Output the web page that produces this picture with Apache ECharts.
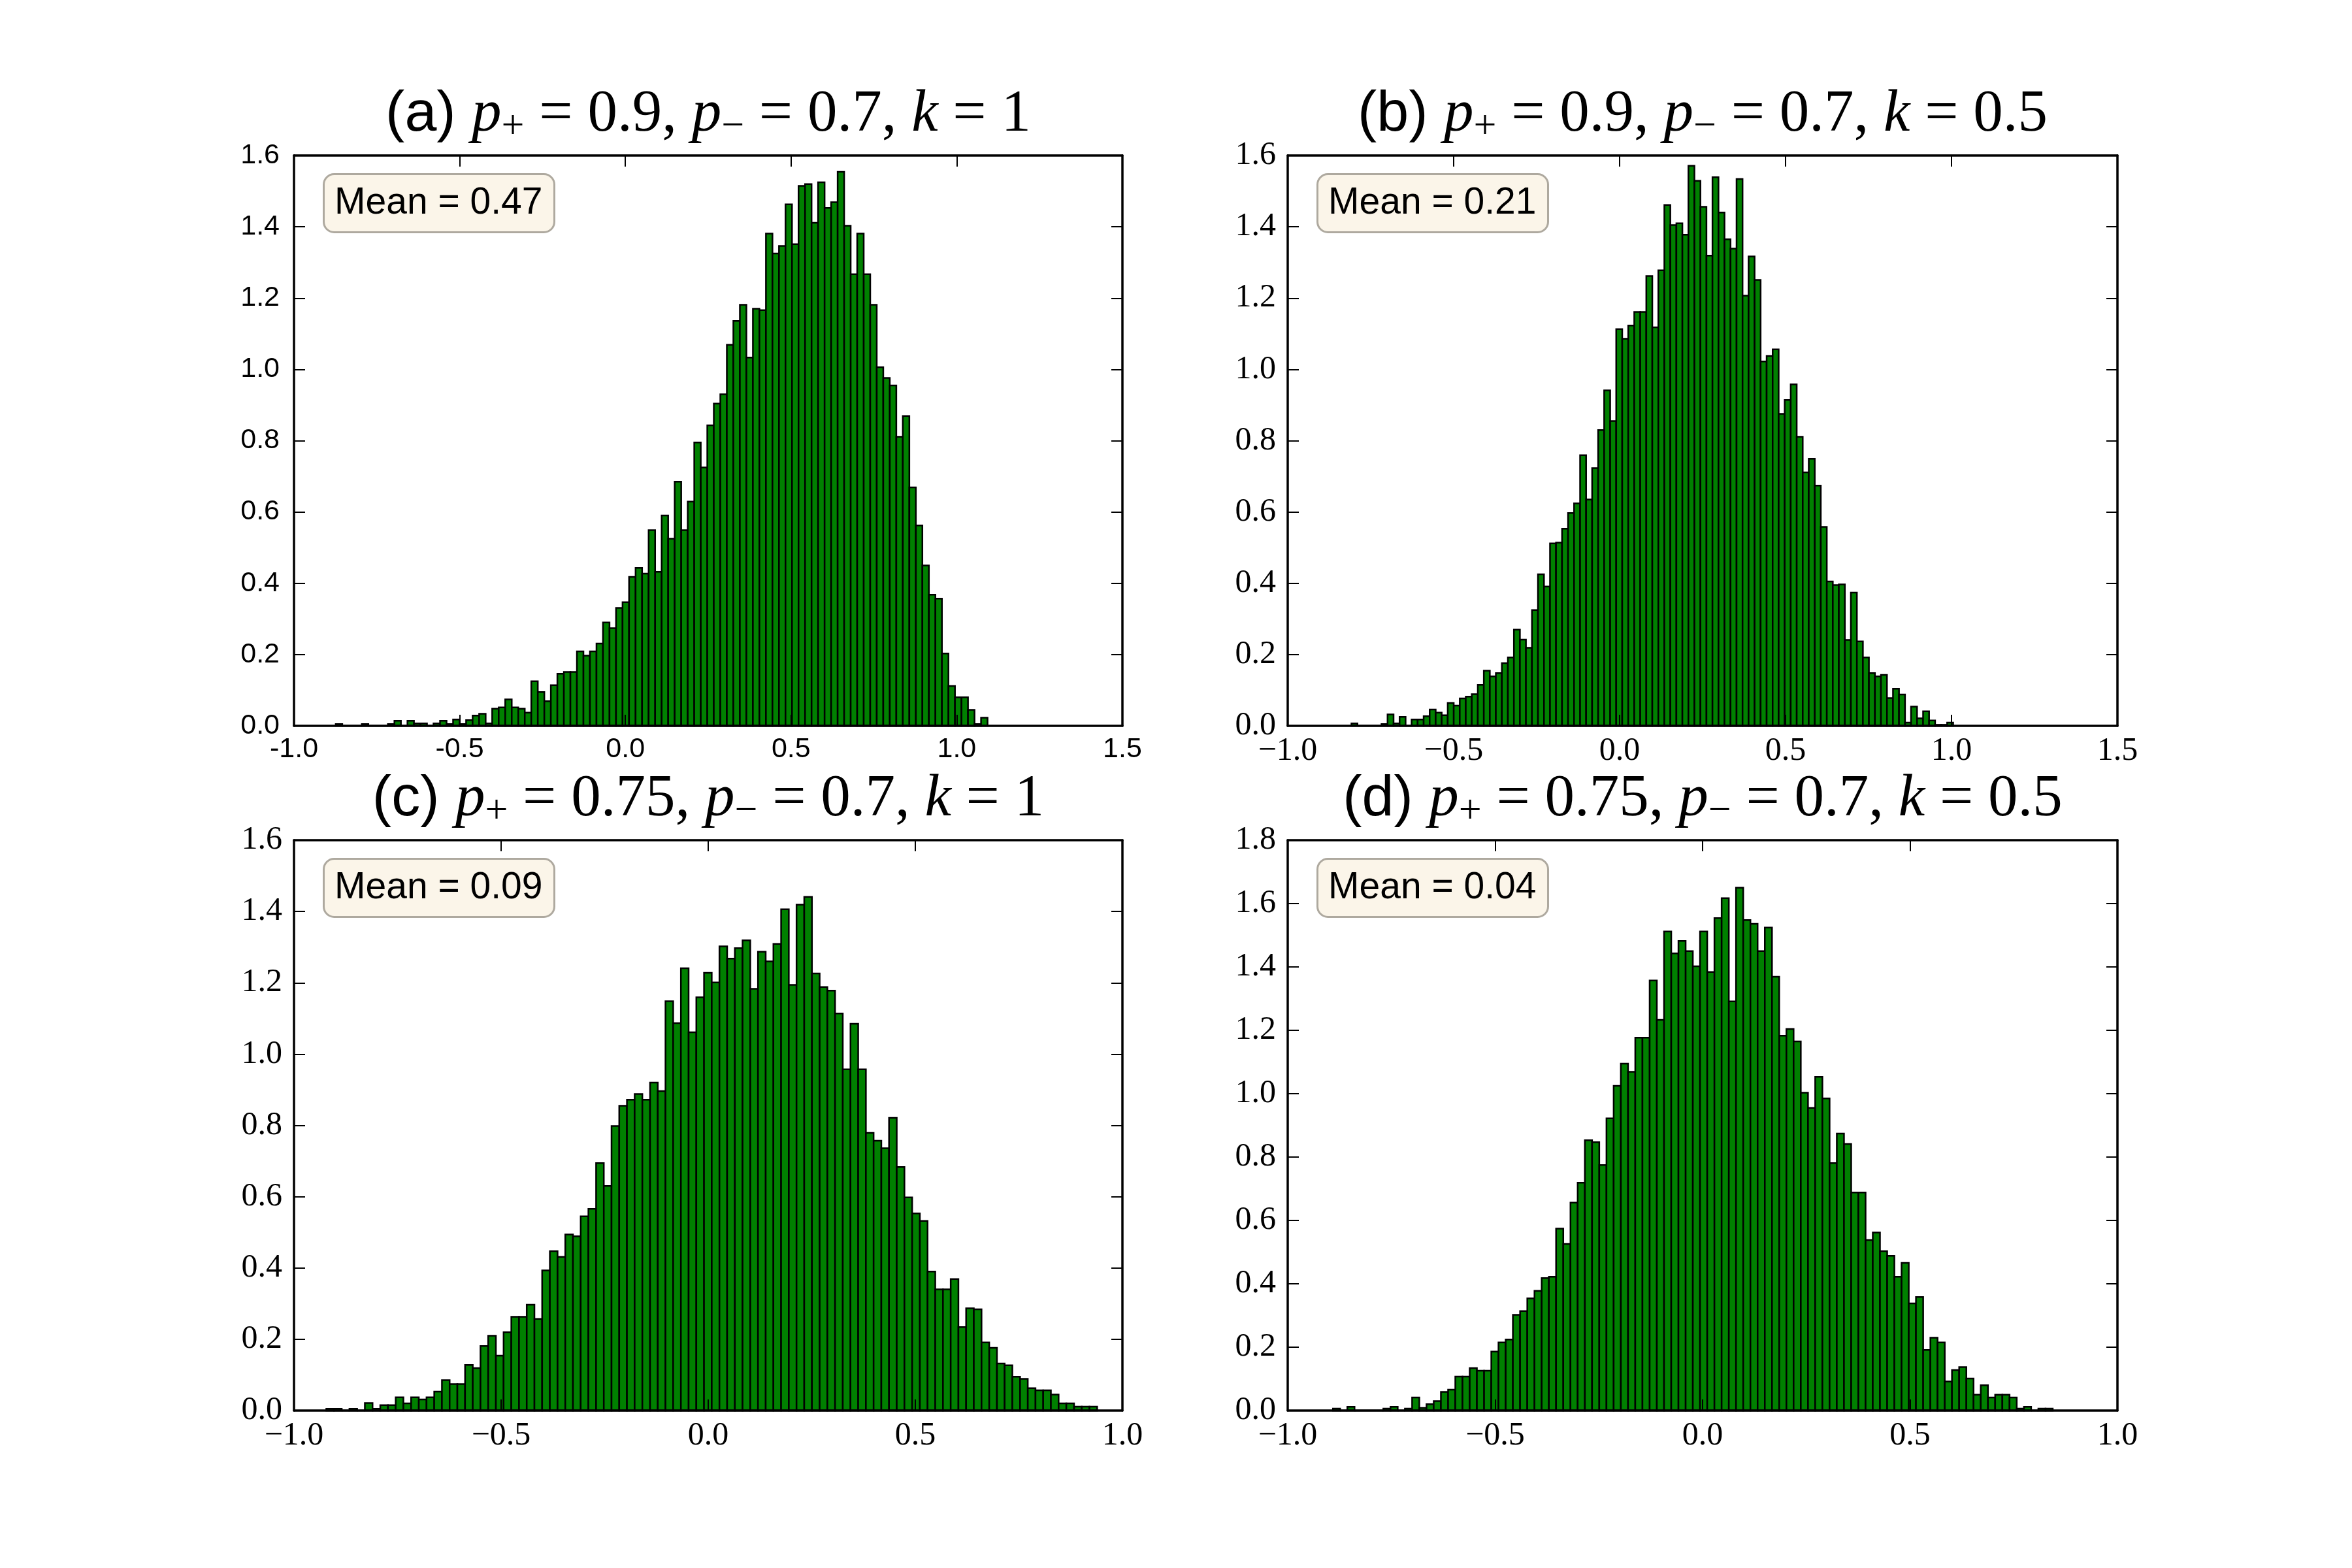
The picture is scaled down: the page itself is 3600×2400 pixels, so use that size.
<!DOCTYPE html>
<html>
<head>
<meta charset="utf-8">
<script src="https://cdn.jsdelivr.net/npm/echarts@6/dist/echarts.min.js"></script>
<style>
html, body { margin: 0; background: #fff; }
#main { width: 3600px; height: 2400px; }
</style>
</head>
<body>
<div id="main"></div>
<script>
// histogram densities, 100 bins per panel
const histA = [
  0.005, 0, 0, 0, 0.005, 0, 0, 0, 0.005, 0.014,
  0, 0.014, 0.007, 0.007, 0, 0.007, 0.014, 0.005, 0.018, 0.005,
  0.016, 0.029, 0.034, 0.007, 0.048, 0.052, 0.074, 0.052, 0.048, 0.037,
  0.125, 0.095, 0.069, 0.114, 0.146, 0.151, 0.151, 0.209, 0.197, 0.209,
  0.231, 0.290, 0.274, 0.331, 0.347, 0.418, 0.443, 0.427, 0.549, 0.432,
  0.590, 0.525, 0.685, 0.549, 0.629, 0.795, 0.725, 0.843, 0.904, 0.930,
  1.069, 1.136, 1.181, 1.033, 1.170, 1.166, 1.381, 1.325, 1.346, 1.463,
  1.351, 1.515, 1.520, 1.411, 1.525, 1.453, 1.469, 1.554, 1.403, 1.267,
  1.381, 1.267, 1.181, 1.006, 0.976, 0.955, 0.811, 0.869, 0.669, 0.562,
  0.450, 0.368, 0.357, 0.203, 0.112, 0.080, 0.080, 0.045, 0.005, 0.023
];
const histB = [
  0.007, 0, 0, 0, 0, 0.005, 0.032, 0.007, 0.025, 0,
  0.018, 0.018, 0.027, 0.046, 0.037, 0.030, 0.064, 0.057, 0.077, 0.082,
  0.089, 0.115, 0.155, 0.139, 0.148, 0.176, 0.192, 0.270, 0.242, 0.219,
  0.325, 0.425, 0.391, 0.512, 0.514, 0.553, 0.597, 0.624, 0.759, 0.635,
  0.723, 0.830, 0.941, 0.855, 1.113, 1.086, 1.123, 1.161, 1.161, 1.262,
  1.118, 1.278, 1.461, 1.405, 1.410, 1.378, 1.571, 1.529, 1.456, 1.319,
  1.539, 1.440, 1.365, 1.339, 1.534, 1.207, 1.317, 1.251, 1.022, 1.038,
  1.056, 0.875, 0.914, 0.958, 0.811, 0.711, 0.749, 0.674, 0.558, 0.405,
  0.395, 0.397, 0.241, 0.374, 0.237, 0.192, 0.148, 0.139, 0.143, 0.078,
  0.104, 0.088, 0.009, 0.054, 0.021, 0.041, 0.015, 0.003, 0.003, 0.009
];
const histC = [
  0.005, 0.005, 0, 0.005, 0, 0.021, 0.005, 0.015, 0.015, 0.037,
  0.020, 0.037, 0.031, 0.037, 0.053, 0.085, 0.074, 0.074, 0.128, 0.119,
  0.181, 0.210, 0.154, 0.220, 0.263, 0.263, 0.297, 0.257, 0.393, 0.447,
  0.431, 0.494, 0.489, 0.545, 0.566, 0.694, 0.630, 0.798, 0.855, 0.872,
  0.888, 0.872, 0.920, 0.896, 1.148, 1.087, 1.241, 1.061, 1.159, 1.228,
  1.201, 1.302, 1.268, 1.297, 1.319, 1.183, 1.287, 1.260, 1.309, 1.406,
  1.194, 1.419, 1.441, 1.226, 1.188, 1.178, 1.114, 0.957, 1.085, 0.957,
  0.779, 0.757, 0.736, 0.821, 0.683, 0.598, 0.553, 0.532, 0.390, 0.340,
  0.340, 0.369, 0.234, 0.287, 0.284, 0.191, 0.176, 0.132, 0.127, 0.095,
  0.089, 0.063, 0.057, 0.057, 0.045, 0.020, 0.020, 0.011, 0.011, 0.011
];
const histD = [
  0.006, 0, 0.012, 0, 0, 0, 0, 0.006, 0.012, 0,
  0.006, 0.041, 0.008, 0.020, 0.030, 0.059, 0.066, 0.107, 0.107, 0.134,
  0.126, 0.126, 0.186, 0.215, 0.224, 0.302, 0.314, 0.354, 0.378, 0.418,
  0.422, 0.574, 0.526, 0.656, 0.719, 0.853, 0.847, 0.775, 0.922, 1.025,
  1.095, 1.069, 1.177, 1.177, 1.357, 1.233, 1.512, 1.443, 1.482, 1.450,
  1.402, 1.512, 1.384, 1.554, 1.617, 1.291, 1.650, 1.548, 1.536, 1.450,
  1.524, 1.369, 1.183, 1.204, 1.165, 1.003, 0.955, 1.053, 0.985, 0.781,
  0.874, 0.841, 0.688, 0.688, 0.538, 0.562, 0.503, 0.488, 0.422, 0.466,
  0.338, 0.358, 0.191, 0.230, 0.215, 0.092, 0.128, 0.137, 0.101, 0.050,
  0.080, 0.041, 0.050, 0.050, 0.041, 0.006, 0.012, 0, 0.006, 0.006
];

// left edge of first bin and bin width
const binStarts = [-0.874, -0.808, -0.922, -0.891];
const binWidths = [0.01967, 0.01813, 0.01861, 0.01735];

const panelTags = ['(a)', '(b)', '(c)', '(d)'];
const pPlusVals = ['0.9', '0.9', '0.75', '0.75'];
const pMinusVals = ['0.7', '0.7', '0.7', '0.7'];
const kVals = ['1', '0.5', '1', '0.5'];
const meanVals = ['0.47', '0.21', '0.09', '0.04'];

const xMins = [-1.0, -1.0, -1.0, -1.0];
const xMaxs = [1.5, 1.5, 1.0, 1.0];
const yMaxs = [1.6, 1.6, 1.6, 1.8];

// layout
const gridBoxes = [
  { left: 450, top: 238, width: 1268, height: 873 },
  { left: 1971, top: 238, width: 1270, height: 873 },
  { left: 450, top: 1286, width: 1268, height: 873 },
  { left: 1971, top: 1286, width: 1270, height: 873 }
];
const serifTicks = [false, true, true, true];

const SANS = 'Liberation Sans';
const SERIF = 'Liberation Serif';
const hists = [histA, histB, histC, histD];

const chart = echarts.init(document.getElementById('main'));

const grid = [], xAxis = [], yAxis = [], series = [], title = [];

const tickFmt = (serif) => (v) => {
  let s = Math.abs(v) < 1e-9 ? '0.0' : v.toFixed(1);
  return serif ? s.replace('-', '\u2212') : s;
};

hists.forEach((hist, i) => {
  const box = gridBoxes[i];
  const serif = serifTicks[i];
  grid.push({ left: box.left, top: box.top, width: box.width, height: box.height, show: false });

  const label = {
    formatter: tickFmt(serif),
    fontFamily: serif ? SERIF : SANS,
    fontSize: serif ? 50 : 43,
    color: '#000'
  };
  const line = { show: true, onZero: false, lineStyle: { color: '#000', width: 3.5 } };
  const tick = { show: true, inside: true, length: 17, lineStyle: { color: '#000', width: 2 } };

  ['bottom', 'top'].forEach((pos) => {
    xAxis.push({
      type: 'value', gridIndex: i, position: pos,
      min: xMins[i], max: xMaxs[i], interval: 0.5,
      axisLine: line, axisTick: tick,
      axisLabel: pos === 'bottom' ? Object.assign({ margin: serif ? 14 : 15 }, label) : { show: false },
      splitLine: { show: false }, z: 5
    });
  });
  ['left', 'right'].forEach((pos) => {
    yAxis.push({
      type: 'value', gridIndex: i, position: pos,
      min: 0, max: yMaxs[i], interval: 0.2,
      axisLine: line, axisTick: tick,
      axisLabel: pos === 'left' ? Object.assign({ margin: serif ? 18 : 22 }, label) : { show: false },
      splitLine: { show: false }, z: 5
    });
  });

  const start = binStarts[i], w = binWidths[i];
  series.push({
    type: 'custom',
    xAxisIndex: 2 * i,
    yAxisIndex: 2 * i,
    silent: true,
    z: 2,
    encode: { x: [0, 1], y: 2 },
    data: hist.map((h, j) => [start + j * w, start + (j + 1) * w, h]),
    renderItem: (params, api) => {
      const p0 = api.coord([api.value(0), api.value(2)]);
      const p1 = api.coord([api.value(1), 0]);
      return {
        type: 'rect',
        shape: { x: p0[0], y: p0[1], width: p1[0] - p0[0], height: p1[1] - p0[1] },
        style: { fill: '#008000', stroke: '#000', lineWidth: 2.5 }
      };
    }
  });

  // panel title with math-like parts
  title.push({
    text: '{s|' + panelTags[i] + '\u00a0}{i|p}{sub|+}{m|\u00a0=\u00a0' + pPlusVals[i] + ',\u00a0}' +
          '{i|p}{sub|\u2212}{m|\u00a0=\u00a0' + pMinusVals[i] + ',\u00a0}{i|k}{m|\u00a0=\u00a0' + kVals[i] + '}',
    left: box.left + box.width / 2,
    top: box.top - 112,
    textAlign: 'center',
    padding: 0,
    textStyle: {
      fontWeight: 'normal',
      rich: {
        s: { fontFamily: SANS, fontWeight: 'normal', fontSize: 88, lineHeight: 100, color: '#000' },
        i: { fontFamily: SERIF, fontWeight: 'normal', fontStyle: 'italic', fontSize: 91, lineHeight: 100, color: '#000' },
        m: { fontFamily: SERIF, fontWeight: 'normal', fontSize: 91, lineHeight: 100, color: '#000' },
        sub: { fontFamily: SERIF, fontWeight: 'normal', fontSize: 62, lineHeight: 56, verticalAlign: 'bottom', color: '#000' }
      }
    }
  });

  // mean annotation box
  title.push({
    text: 'Mean = ' + meanVals[i],
    left: box.left + 45,
    top: box.top + 28,
    padding: [16, 18, 16, 17],
    backgroundColor: '#fbf5e9',
    borderColor: '#aea99f',
    borderWidth: 3,
    borderRadius: 16,
    textStyle: { fontFamily: SANS, fontSize: 57, lineHeight: 58, fontWeight: 'normal', color: '#000' }
  });
});

chart.setOption({
  animation: false,
  backgroundColor: '#fff',
  title: title,
  grid: grid,
  xAxis: xAxis,
  yAxis: yAxis,
  series: series
});
</script>
</body>
</html>
